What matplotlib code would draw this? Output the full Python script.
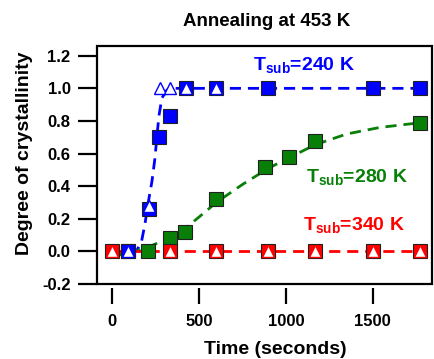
import matplotlib
matplotlib.use("Agg")
import matplotlib.pyplot as plt
from matplotlib.patches import Rectangle

plt.rcParams['font.family'] = ['Liberation Sans', 'DejaVu Sans']
plt.rcParams['font.weight'] = 'bold'
plt.rcParams['mathtext.fontset'] = 'custom'
plt.rcParams['mathtext.rm'] = 'Liberation Sans:bold'
plt.rcParams['mathtext.it'] = 'Liberation Sans:bold'
plt.rcParams['mathtext.bf'] = 'Liberation Sans:bold'

# measured points (time in s, degree of crystallinity)
t240_sq = [90, 213, 270, 333, 425, 600, 900, 1500, 1770]
y240_sq = [0.0, 0.26, 0.70, 0.83, 1.0, 1.0, 1.0, 1.0, 1.0]
t240_tri = [90, 213, 275, 333, 425, 600]
y240_tri = [0.0, 0.28, 1.0, 1.0, 1.0, 1.0]

t280_sq = [90, 207, 333, 420, 600, 880, 1017, 1170, 1770]
y280_sq = [0.0, 0.0, 0.08, 0.12, 0.32, 0.52, 0.58, 0.675, 0.79]

t340_sq = [0, 333, 600, 900, 1170, 1500, 1770]
y340_sq = [0.0, 0.0, 0.0, 0.0, 0.0, 0.0, 0.0]
t340_tri = t340_sq
y340_tri = y340_sq

# fitted curves
fit240_t = [0, 120, 145, 170, 190, 207, 230, 247, 259, 270, 287, 316, 360, 1780]
fit240_y = [-0.005, -0.005, 0.01, 0.06, 0.17, 0.29, 0.43, 0.57, 0.71, 0.83, 0.94, 0.99, 1.0, 1.0]
fit280_t = [0, 100, 207, 333, 420, 500, 600, 750, 900, 1020, 1170, 1350, 1540, 1780]
fit280_y = [-0.03, -0.01, 0.025, 0.085, 0.14, 0.21, 0.30, 0.41, 0.51, 0.575, 0.655, 0.72, 0.76, 0.79]
fit340_t = [0, 1780]
fit340_y = [0.0, 0.0]

blue = '#0000ff'
green = '#088008'
red = '#ff0000'
edge = '#202020'

fig = plt.figure(figsize=(4.35, 3.59), dpi=100)
ax = fig.add_axes([0.223, 0.209, 0.770, 0.663])

dash = (0, (4, 2.5))
ax.plot(fit240_t, fit240_y, color=blue, lw=2, linestyle=dash, zorder=2)
ax.plot(fit280_t, fit280_y, color=green, lw=2, linestyle=dash, zorder=2)
ax.plot(fit340_t, fit340_y, color=red, lw=2, linestyle=dash, zorder=2)

sq = dict(marker='s', ms=10.5, mec=edge, mew=0.8, linestyle='none', zorder=3)
ax.plot(t280_sq, y280_sq, mfc=green, **sq)
ax.plot(t240_sq, y240_sq, mfc=blue, **sq)
ax.plot(t340_sq, y340_sq, mfc=red, **sq)

tri = dict(marker='^', ms=9, mfc='white', mew=1.0, linestyle='none', zorder=4)
ax.plot(t240_tri, y240_tri, mec=blue, **tri)
ax.plot(t340_tri, y340_tri, mec=red, **tri)

lab = dict(fontsize=14, fontweight='bold', ha='left', va='baseline')
ax.text(810, 1.112, r'$\mathrm{T_{sub}}$=240 K', color=blue, **lab)
ax.text(1115, 0.426, r'$\mathrm{T_{sub}}$=280 K', color=green, **lab)
ax.text(1098, 0.129, r'$\mathrm{T_{sub}}$=340 K', color=red, **lab)

ax.set_xlim(-86, 1840)
ax.set_ylim(-0.2, 1.26)
ax.set_xticks([0, 500, 1000, 1500])
ax.set_yticks([-0.2, 0.0, 0.2, 0.4, 0.6, 0.8, 1.0, 1.2])
ax.set_yticklabels(['-0.2', '0.0', '0.2', '0.4', '0.6', '0.8', '1.0', '1.2'])

# frame drawn as a box, x ticks detached below it
for s in ax.spines.values():
    s.set_visible(False)
ax.spines['bottom'].set_position(('outward', 3))
ax.add_patch(Rectangle((0, 0), 1, 1, transform=ax.transAxes, fill=False,
                       lw=1.6, edgecolor='black', clip_on=False, zorder=5))

ax.tick_params(axis='x', direction='out', length=11.5, width=1.6, pad=7, labelsize=12)
ax.tick_params(axis='y', direction='out', length=14, width=1.6, pad=5, labelsize=12)

ax.set_xlabel('Time (seconds)', fontsize=14, fontweight='bold', va='center')
ax.xaxis.set_label_coords(0.531, -0.277)
ax.set_ylabel('Degree of crystallinity', fontsize=14, fontweight='bold', va='center')
ax.yaxis.set_label_coords(-0.215, 0.55)

fig.text(267 / 435, 1 - 21 / 359, 'Annealing at 453 K', fontsize=13.5,
         fontweight='bold', ha='center', va='center')

fig.savefig('out.png', dpi=100)
